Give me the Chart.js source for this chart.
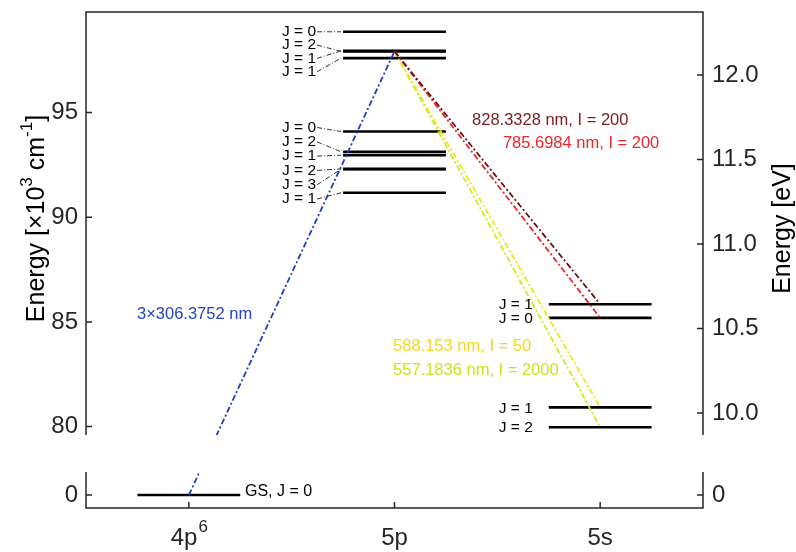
<!DOCTYPE html>
<html>
<head>
<meta charset="utf-8">
<script src="https://cdn.jsdelivr.net/npm/chart.js@4.4.0/dist/chart.umd.min.js"></script>
<style>
  html, body { margin: 0; padding: 0; background: #fff; }
  #wrap { position: relative; width: 796px; height: 552px; }
  canvas { position: absolute; left: 0; }
  #top { top: 0; }
  #bottom { top: 440px; }
</style>
</head>
<body>
<div id="wrap">
  <canvas id="top" width="796" height="440"></canvas>
  <canvas id="bottom" width="796" height="112"></canvas>
</div>
<script>
// configurations on the x axis
const configLabels = ["4p", "5p", "5s"];
const configSup = ["6", "", ""];
const configX = [1, 2, 3];

// level energies, 10^3 cm^-1
const gsEnergy = 0;
const p5Energy = [98.855, 97.919, 97.945, 97.596, 94.093, 93.123, 92.964, 92.307, 92.294, 91.168];
const p5J = [0, 2, 1, 1, 0, 2, 1, 2, 3, 1];
const p5Group = [0, 0, 0, 0, 1, 1, 1, 1, 1, 1];
const s5Energy = [85.847, 85.192, 80.917, 79.972];
const s5J = [1, 0, 1, 2];

// transitions
const pumpLabel = "3×306.3752 nm";
const pumpTarget = 97.919;
const decayTarget = [85.847, 85.192, 80.917, 79.972];
const decayLabel = ["828.3328 nm, I = 200", "785.6984 nm, I = 200", "588.153 nm, I = 50", "557.1836 nm, I = 2000"];
const decayColor = ["#6b1010", "#e8232a", "#f3e41c", "#c4ee1c"];
const decayTextColor = ["#7a1c1c", "#e8262c", "#f2d81c", "#bfe81c"];

// ticks
const leftTicks = [80, 85, 90, 95];
const rightTicks = [10.0, 10.5, 11.0, 11.5, 12.0];
const cmToEv = 0.123984; // eV per 10^3 cm^-1

// layout
const FONT = '"Liberation Sans", Arial, Helvetica, sans-serif';
const UP = { top: 12, bottom: 435, min: 79.6, max: 99.8 };
const LOW = { top: 472, bottom: 508, zero: 495 };
const kpx = (UP.bottom - UP.top) / (UP.max - UP.min);
const lowMin = -(LOW.bottom - LOW.zero) / kpx;
const lowMax = (LOW.zero - LOW.top) / kpx;
// where the ground state would sit on the upper scale (axis break)
const gsVirtual = UP.min - (LOW.zero - UP.bottom) / kpx;

const DASHDOT = [6, 2.5, 2, 2.5];

function level(x, e) {
  return { data: [{ x: x - 0.25, y: e }, { x: x + 0.25, y: e }],
    borderColor: "#000", borderWidth: 2.6, pointRadius: 0, order: 2 };
}
function trans(p0, p1, color) {
  return { data: [p0, p1], borderColor: color, borderWidth: 1.8,
    borderDash: DASHDOT, pointRadius: 0, order: 1 };
}
function fixedTicks(list) {
  return s => { s.ticks = list.map(v => ({ value: v })); };
}
function fitWidth(w) {
  return s => { s.width = w; s.paddingTop = 0; s.paddingBottom = 0; };
}
const tickFont = { family: FONT, size: 24 };

// ---------- upper panel ----------
const upperSets = [];
p5Energy.forEach(e => upperSets.push(level(configX[1], e)));
s5Energy.forEach(e => upperSets.push(level(configX[2], e)));
upperSets.push(trans({ x: configX[0], y: gsVirtual }, { x: configX[1], y: pumpTarget }, "#1d3ec0"));
decayTarget.forEach((t, i) => {
  upperSets.push(trans({ x: configX[1], y: pumpTarget }, { x: configX[2], y: t }, decayColor[i]));
});

const upperPlugin = {
  id: "upperDeco",
  afterDraw(chart) {
    const ctx = chart.ctx, a = chart.chartArea, s = chart.scales;
    const X = v => s.x.getPixelForValue(v), Y = v => s.y.getPixelForValue(v);
    ctx.save();

    // box + inward ticks
    ctx.strokeStyle = "#262626";
    ctx.lineWidth = 1.5;
    ctx.setLineDash([]);
    ctx.beginPath();
    ctx.moveTo(a.left, a.bottom); ctx.lineTo(a.left, a.top);
    ctx.lineTo(a.right, a.top); ctx.lineTo(a.right, a.bottom);
    leftTicks.forEach(v => { const y = Y(v); ctx.moveTo(a.left, y); ctx.lineTo(a.left + 6, y); });
    rightTicks.forEach(v => { const y = s.y1.getPixelForValue(v); ctx.moveTo(a.right, y); ctx.lineTo(a.right - 6, y); });
    ctx.stroke();

    // 5p J labels with leaders
    ctx.font = "15.5px " + FONT;
    ctx.fillStyle = "#000";
    ctx.textBaseline = "middle";
    ctx.textAlign = "right";
    const xStart = X(configX[1] - 0.25);
    const xText = xStart - 27;
    [0, 1].forEach(g => {
      const idx = p5Energy.map((e, i) => i).filter(i => p5Group[i] === g);
      const y0 = Y(p5Energy[idx[0]]) + (g === 0 ? 0 : -4);
      const step = g === 0 ? 13.3 : 14.3;
      idx.forEach((i, n) => {
        const ly = y0 + n * step;
        ctx.fillText("J = " + p5J[i], xText, ly);
        ctx.save();
        ctx.lineWidth = 1;
        ctx.strokeStyle = "#333";
        ctx.setLineDash([5, 2, 1, 2]);
        ctx.beginPath();
        ctx.moveTo(xText + 1, ly);
        ctx.lineTo(xStart - 2, Y(p5Energy[i]));
        ctx.stroke();
        ctx.restore();
      });
    });

    // 5s J labels
    const xs = X(configX[2] - 0.25) - 16;
    s5Energy.forEach((e, i) => ctx.fillText("J = " + s5J[i], xs, Y(e) + 1));

    // transition labels
    ctx.font = "16.5px " + FONT;
    ctx.textAlign = "left";
    const spots = [[2.377, 94.62], [2.527, 93.52], [1.993, 83.82], [1.993, 82.67]];
    decayLabel.forEach((t, i) => {
      ctx.fillStyle = decayTextColor[i];
      ctx.fillText(t, X(spots[i][0]), Y(spots[i][1]));
    });
    ctx.fillStyle = "#2444c4";
    ctx.fillText(pumpLabel, X(0.748), Y(85.38));

    // axis titles
    ctx.fillStyle = "#000";
    ctx.save();
    ctx.translate(37, (a.top + a.bottom) / 2 - 5);
    ctx.rotate(-Math.PI / 2);
    const parts = [["Energy [×10", 0], ["3", 1], [" cm", 0], ["-1", 1], ["]", 0]];
    const fBig = "25px " + FONT, fSmall = "17px " + FONT;
    let w = 0;
    parts.forEach(p => { ctx.font = p[1] ? fSmall : fBig; w += ctx.measureText(p[0]).width; });
    let x = -w / 2;
    ctx.textAlign = "left";
    parts.forEach(p => {
      ctx.font = p[1] ? fSmall : fBig;
      ctx.fillText(p[0], x, p[1] ? -10 : 0);
      x += ctx.measureText(p[0]).width;
    });
    ctx.restore();

    ctx.save();
    ctx.translate(783, (a.top + a.bottom) / 2 + 5);
    ctx.rotate(-Math.PI / 2);
    ctx.font = "25px " + FONT;
    ctx.textAlign = "center";
    ctx.fillText("Energy [eV]", 0, 0);
    ctx.restore();

    ctx.restore();
  }
};

new Chart(document.getElementById("top"), {
  type: "line",
  data: { datasets: upperSets },
  options: {
    responsive: false, animation: false, events: [],
    layout: { padding: { top: UP.top, bottom: 440 - UP.bottom, left: 0, right: 0 } },
    plugins: { legend: { display: false }, tooltip: { enabled: false } },
    scales: {
      x: { type: "linear", min: 0.5, max: 3.5, display: false },
      y: {
        position: "left", min: UP.min, max: UP.max,
        afterFit: fitWidth(86),
        afterBuildTicks: fixedTicks(leftTicks),
        grid: { display: false, drawTicks: false }, border: { display: false },
        ticks: { font: tickFont, color: "#262626", padding: 8 }
      },
      y1: {
        position: "right", min: UP.min * cmToEv, max: UP.max * cmToEv,
        afterFit: fitWidth(93),
        afterBuildTicks: fixedTicks(rightTicks),
        grid: { display: false, drawTicks: false }, border: { display: false },
        ticks: { font: tickFont, color: "#262626", padding: 9, callback: v => v.toFixed(1) }
      }
    }
  },
  plugins: [upperPlugin]
});

// ---------- lower panel ----------
const lowerSets = [
  level(configX[0], gsEnergy),
  trans({ x: configX[0], y: gsEnergy }, { x: configX[1], y: pumpTarget - gsVirtual }, "#1d3ec0")
];

const lowerPlugin = {
  id: "lowerDeco",
  afterDraw(chart) {
    const ctx = chart.ctx, a = chart.chartArea, s = chart.scales;
    ctx.save();
    ctx.strokeStyle = "#262626";
    ctx.lineWidth = 1.5;
    ctx.beginPath();
    ctx.moveTo(a.left, a.top); ctx.lineTo(a.left, a.bottom);
    ctx.lineTo(a.right, a.bottom); ctx.lineTo(a.right, a.top);
    const y0 = s.y.getPixelForValue(0);
    ctx.moveTo(a.left, y0); ctx.lineTo(a.left + 6, y0);
    ctx.moveTo(a.right, y0); ctx.lineTo(a.right - 6, y0);
    configX.forEach(v => { const x = s.x.getPixelForValue(v); ctx.moveTo(x, a.bottom); ctx.lineTo(x, a.bottom - 6); });
    ctx.stroke();

    // configuration labels (with superscript)
    ctx.fillStyle = "#262626";
    ctx.textBaseline = "alphabetic";
    ctx.textAlign = "left";
    configX.forEach((v, i) => {
      ctx.font = "24px " + FONT;
      const w1 = ctx.measureText(configLabels[i]).width;
      ctx.font = "17px " + FONT;
      const w2 = configSup[i] ? ctx.measureText(configSup[i]).width : 0;
      const x0 = s.x.getPixelForValue(v) - (w1 + w2) / 2;
      ctx.font = "24px " + FONT;
      ctx.fillText(configLabels[i], x0, a.bottom + 37);
      if (configSup[i]) {
        ctx.font = "17px " + FONT;
        ctx.fillText(configSup[i], x0 + w1 + 1, a.bottom + 24);
      }
    });

    ctx.font = "16px " + FONT;
    ctx.fillStyle = "#000";
    ctx.textBaseline = "middle";
    ctx.textAlign = "left";
    ctx.fillText("GS, J = 0", s.x.getPixelForValue(1.273), y0 - 3);
    ctx.restore();
  }
};

new Chart(document.getElementById("bottom"), {
  type: "line",
  data: { datasets: lowerSets },
  options: {
    responsive: false, animation: false, events: [],
    layout: { padding: { top: LOW.top - 440, bottom: 0, left: 0, right: 0 } },
    plugins: { legend: { display: false }, tooltip: { enabled: false } },
    scales: {
      x: {
        type: "linear", position: "bottom", min: 0.5, max: 3.5,
        afterFit: s => { s.height = 552 - LOW.bottom; s.paddingLeft = 0; s.paddingRight = 0; },
        afterBuildTicks: fixedTicks(configX),
        grid: { display: false, drawTicks: false }, border: { display: false },
        ticks: { display: false }
      },
      y: {
        position: "left", min: lowMin, max: lowMax,
        afterFit: fitWidth(86),
        afterBuildTicks: fixedTicks([0]),
        grid: { display: false, drawTicks: false }, border: { display: false },
        ticks: { font: tickFont, color: "#262626", padding: 8 }
      },
      y1: {
        position: "right", min: lowMin, max: lowMax,
        afterFit: fitWidth(93),
        afterBuildTicks: fixedTicks([0]),
        grid: { display: false, drawTicks: false }, border: { display: false },
        ticks: { font: tickFont, color: "#262626", padding: 9, callback: () => "0" }
      }
    }
  },
  plugins: [lowerPlugin]
});
</script>
</body>
</html>
